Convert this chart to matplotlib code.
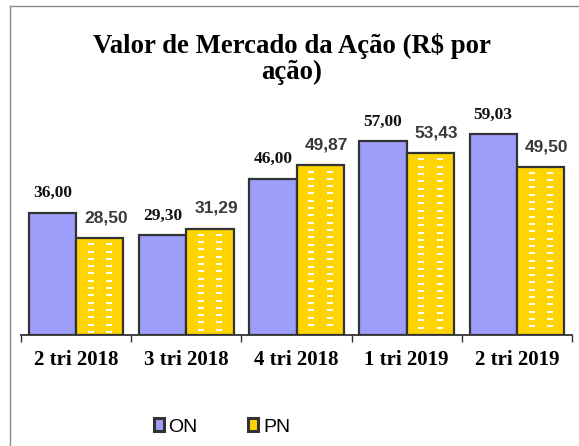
import matplotlib
matplotlib.use("Agg")
import matplotlib.pyplot as plt
from matplotlib.patches import Patch
from matplotlib.lines import Line2D
import numpy as np

categories = ["2 tri 2018", "3 tri 2018", "4 tri 2018", "1 tri 2019", "2 tri 2019"]
on_values = [36.00, 29.30, 46.00, 57.00, 59.03]
pn_values = [28.50, 31.29, 49.87, 53.43, 49.50]
series_names = ["ON", "PN"]
title = "Valor de Mercado da Ação (R$ por\nação)"

ON_COLOR = "#9D9DFA"
PN_COLOR = "#FFD400"
EDGE = "#333333"
SERIF = "Liberation Serif"
SANS = "Liberation Sans"

W, H = 579, 446
fig = plt.figure(figsize=(W / 100, H / 100), dpi=100)
ax = fig.add_axes([21 / W, 1 - 335 / H, 551 / W, 238 / H])

x = np.arange(len(categories))
bw = 0.43
on_bars = ax.bar(x - bw / 2, on_values, bw, color=ON_COLOR, edgecolor=EDGE, linewidth=1.6, zorder=2)
pn_bars = ax.bar(x + bw / 2, pn_values, bw, color=PN_COLOR, edgecolor=EDGE, linewidth=1.6, zorder=2)

# white dash pattern on PN bars
for b in pn_bars:
    cx = b.get_x() + b.get_width() / 2
    top = b.get_height()
    ys = np.arange(top - 1.8, 0.8, -2.15)
    for dx in (-0.082, 0.085):
        ax.plot(np.full_like(ys, cx + dx), ys, ls="none", marker="_", ms=4.0, mew=1.4,
                color="white", zorder=3)

for b, v in zip(on_bars, on_values):
    ax.annotate(f"{v:.2f}".replace(".", ","), (b.get_x() + b.get_width() / 2, v),
                xytext=(0, 14), textcoords="offset points", ha="center", va="center",
                fontsize=12.5, fontweight="bold", family=SERIF, color="#111111")
for b, v in zip(pn_bars, pn_values):
    ax.annotate(f"{v:.2f}".replace(".", ","), (b.get_x() + b.get_width() / 2, v),
                xytext=(4.5, 14.5), textcoords="offset points", ha="center", va="center",
                fontsize=12.5, fontweight="bold", family=SANS, color="#3a3a3a")

ax.set_xlim(-0.5, len(categories) - 0.5)
ax.set_ylim(0, 70)
ax.set_yticks([])
for s in ("left", "right", "top"):
    ax.spines[s].set_visible(False)
ax.spines["bottom"].set_color(EDGE)
ax.spines["bottom"].set_linewidth(1.3)
ax.set_xticks(x)
ax.set_xticklabels(categories, fontsize=15, fontweight="bold", family=SERIF)
ax.set_xticks(np.arange(-0.5, len(categories)), minor=True)
ax.tick_params(axis="x", which="major", length=0, pad=11)
ax.tick_params(axis="x", which="minor", length=5, width=1, color=EDGE)

fig.text(292 / W, 1 - 59 / H, title, ha="center", va="center", fontsize=19.3,
         fontweight="bold", family=SERIF, linespacing=1.08)

handles = [Patch(facecolor=ON_COLOR, edgecolor=EDGE, linewidth=2.2),
           Patch(facecolor=PN_COLOR, edgecolor=EDGE, linewidth=2.2)]
fig.legend(handles, series_names, loc="center", bbox_to_anchor=(222 / W, 1 - 427 / H),
           ncol=2, frameon=False, prop={"family": SANS, "size": 14},
           handlelength=0.5, handleheight=0.65, handletextpad=0.25, columnspacing=2.6)

# outer frame lines
fig.add_artist(Line2D([10 / W, 10 / W], [0, 1 - 6 / H], transform=fig.transFigure,
                      color="#8a8a8a", lw=1))
fig.add_artist(Line2D([10 / W, 1], [1 - 6 / H, 1 - 6 / H], transform=fig.transFigure,
                      color="#8a8a8a", lw=1))

fig.savefig("out.png", dpi=100)
